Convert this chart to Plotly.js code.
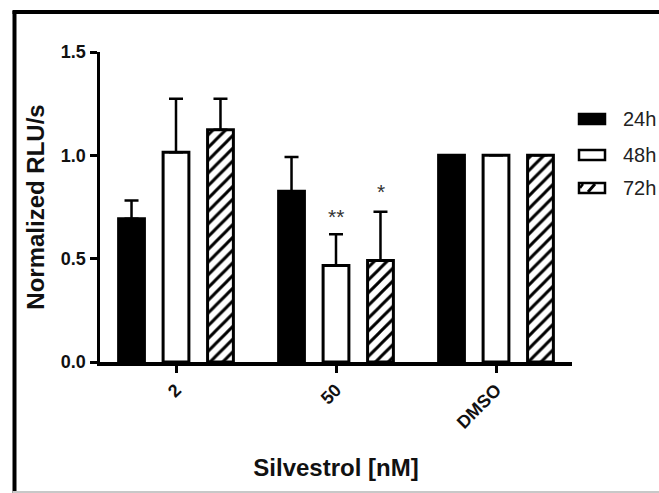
<!DOCTYPE html>
<html>
<head>
<meta charset="utf-8">
<script src="https://cdn.plot.ly/plotly-3.0.1.min.js"></script>
<style>
  html, body { margin: 0; padding: 0; background: #ffffff; }
  #chart { width: 659px; height: 493px; }
</style>
</head>
<body>
<div id="chart"></div>
<script>
// ---- data ----
const categories = ['2', '50', 'DMSO'];
const seriesNames = ['24h', '48h', '72h'];
const values24 = [0.693, 0.826, 1.0];
const values48 = [1.015, 0.467, 1.0];
const values72 = [1.124, 0.491, 1.0];
const err24 = [0.088, 0.166, 0];
const err48 = [0.259, 0.151, 0];
const err72 = [0.150, 0.236, 0];
const yTicks = [0, 0.5, 1.0, 1.5];
const stars = [
  {cat: '50', series: 1, text: '**', y: 0.705},
  {cat: '50', series: 2, text: '*', y: 0.825}
];

const FONT = 'Arial, "Liberation Sans", sans-serif';
const BLACK = '#000000';

function barTrace(name, vals, errs, fill, pattern) {
  const t = {
    type: 'bar',
    name: name,
    x: categories,
    y: vals,
    marker: {
      color: fill,
      line: {color: BLACK, width: 3}
    },
    error_y: {
      type: 'data',
      symmetric: false,
      array: errs,
      arrayminus: errs.map(() => 0),
      color: BLACK,
      thickness: 2.5,
      width: 7
    },
    showlegend: false,
    hoverinfo: 'x+y'
  };
  if (pattern) t.marker.pattern = pattern;
  return t;
}

const traces = [
  barTrace(seriesNames[0], values24, err24, BLACK, null),
  barTrace(seriesNames[1], values48, err48, '#ffffff', null),
  barTrace(seriesNames[2], values72, err72, '#ffffff',
    {shape: '/', fgcolor: BLACK, bgcolor: '#ffffff', fgopacity: 1, size: 9, solidity: 0.33, fillmode: 'replace'})
];

// pixel helpers for decorations (legend and frame), relative to plot area
const PL = 100, PR = 572, PT = 52, PB = 362;
const px = v => (v - PL) / (PR - PL);
const py = v => (PB - v) / (PB - PT);

const shapes = [
  // outer frame (left, top) and faint bottom line
  {type: 'line', xref: 'paper', yref: 'paper', x0: px(14.5), x1: px(14.5), y0: py(11), y1: py(495), line: {color: BLACK, width: 4}},
  {type: 'line', xref: 'paper', yref: 'paper', x0: px(12.5), x1: px(665), y0: py(12), y1: py(12), line: {color: BLACK, width: 4}},
  {type: 'line', xref: 'paper', yref: 'paper', x0: px(12.5), x1: px(665), y0: py(492), y1: py(492), line: {color: '#c8c8c8', width: 2}},
  // legend boxes
  {type: 'rect', xref: 'paper', yref: 'paper', x0: px(579), x1: px(605), y0: py(124), y1: py(114), fillcolor: BLACK, line: {color: BLACK, width: 2.5}},
  {type: 'rect', xref: 'paper', yref: 'paper', x0: px(579), x1: px(605), y0: py(160), y1: py(150), fillcolor: '#ffffff', line: {color: BLACK, width: 2.5}},
  {type: 'rect', xref: 'paper', yref: 'paper', x0: px(579), x1: px(605), y0: py(193), y1: py(183), fillcolor: '#ffffff', line: {color: BLACK, width: 2.5}},
  {type: 'line', xref: 'paper', yref: 'paper', x0: px(588), x1: px(595), y0: py(192), y1: py(184), line: {color: BLACK, width: 3}},
  {type: 'line', xref: 'paper', yref: 'paper', x0: px(580), x1: px(583), y0: py(188), y1: py(184), line: {color: BLACK, width: 2.5}}
];

const annotations = [];
const legendY = [119, 155, 188];
seriesNames.forEach((n, i) => {
  annotations.push({
    xref: 'paper', yref: 'paper', x: px(621), y: py(legendY[i]),
    xanchor: 'left', yanchor: 'middle', showarrow: false,
    text: n, font: {family: FONT, size: 20, color: '#222222'}
  });
});
const slot = 44.5;
stars.forEach(s => {
  annotations.push({
    xref: 'x', yref: 'y', x: categories.indexOf(s.cat), y: s.y,
    xshift: (s.series - 1) * slot,
    xanchor: 'center', yanchor: 'middle', showarrow: false,
    text: s.text, font: {family: FONT, size: 21, color: '#333333'}
  });
});

const layout = {
  width: 659,
  height: 493,
  margin: {l: PL, r: 659 - PR, t: PT, b: 493 - PB, pad: 0},
  paper_bgcolor: '#ffffff',
  plot_bgcolor: '#ffffff',
  barmode: 'group',
  bargap: 0.166,
  bargroupgap: 0.42,
  showlegend: false,
  font: {family: FONT, color: '#111111'},
  xaxis: {
    type: 'category',
    range: [-0.475, 2.475],
    showline: true, linecolor: BLACK, linewidth: 3.5,
    ticks: 'outside', ticklen: 7, tickwidth: 3, tickcolor: BLACK,
    tickangle: -45,
    tickfont: {family: FONT, size: 18, color: '#111111', weight: 'bold'},
    showgrid: false, zeroline: false,
    title: {text: '<b>Silvestrol [nM]</b>', font: {family: FONT, size: 24, color: '#111111'}, standoff: 28},
    automargin: false,
    fixedrange: true
  },
  yaxis: {
    range: [0, 1.5],
    tickvals: yTicks,
    tickformat: '.1f',
    showline: true, linecolor: BLACK, linewidth: 3.5,
    ticks: 'outside', ticklen: 7, tickwidth: 3, tickcolor: BLACK,
    tickfont: {family: FONT, size: 18, color: '#111111', weight: 'bold'},
    showgrid: false, zeroline: false,
    title: {text: '<b>Normalized RLU/s</b>', font: {family: FONT, size: 24, color: '#111111'}, standoff: 10},
    automargin: false,
    fixedrange: true
  },
  shapes: shapes,
  annotations: annotations
};

Plotly.newPlot('chart', traces, layout, {displayModeBar: false, staticPlot: true});
</script>
</body>
</html>
